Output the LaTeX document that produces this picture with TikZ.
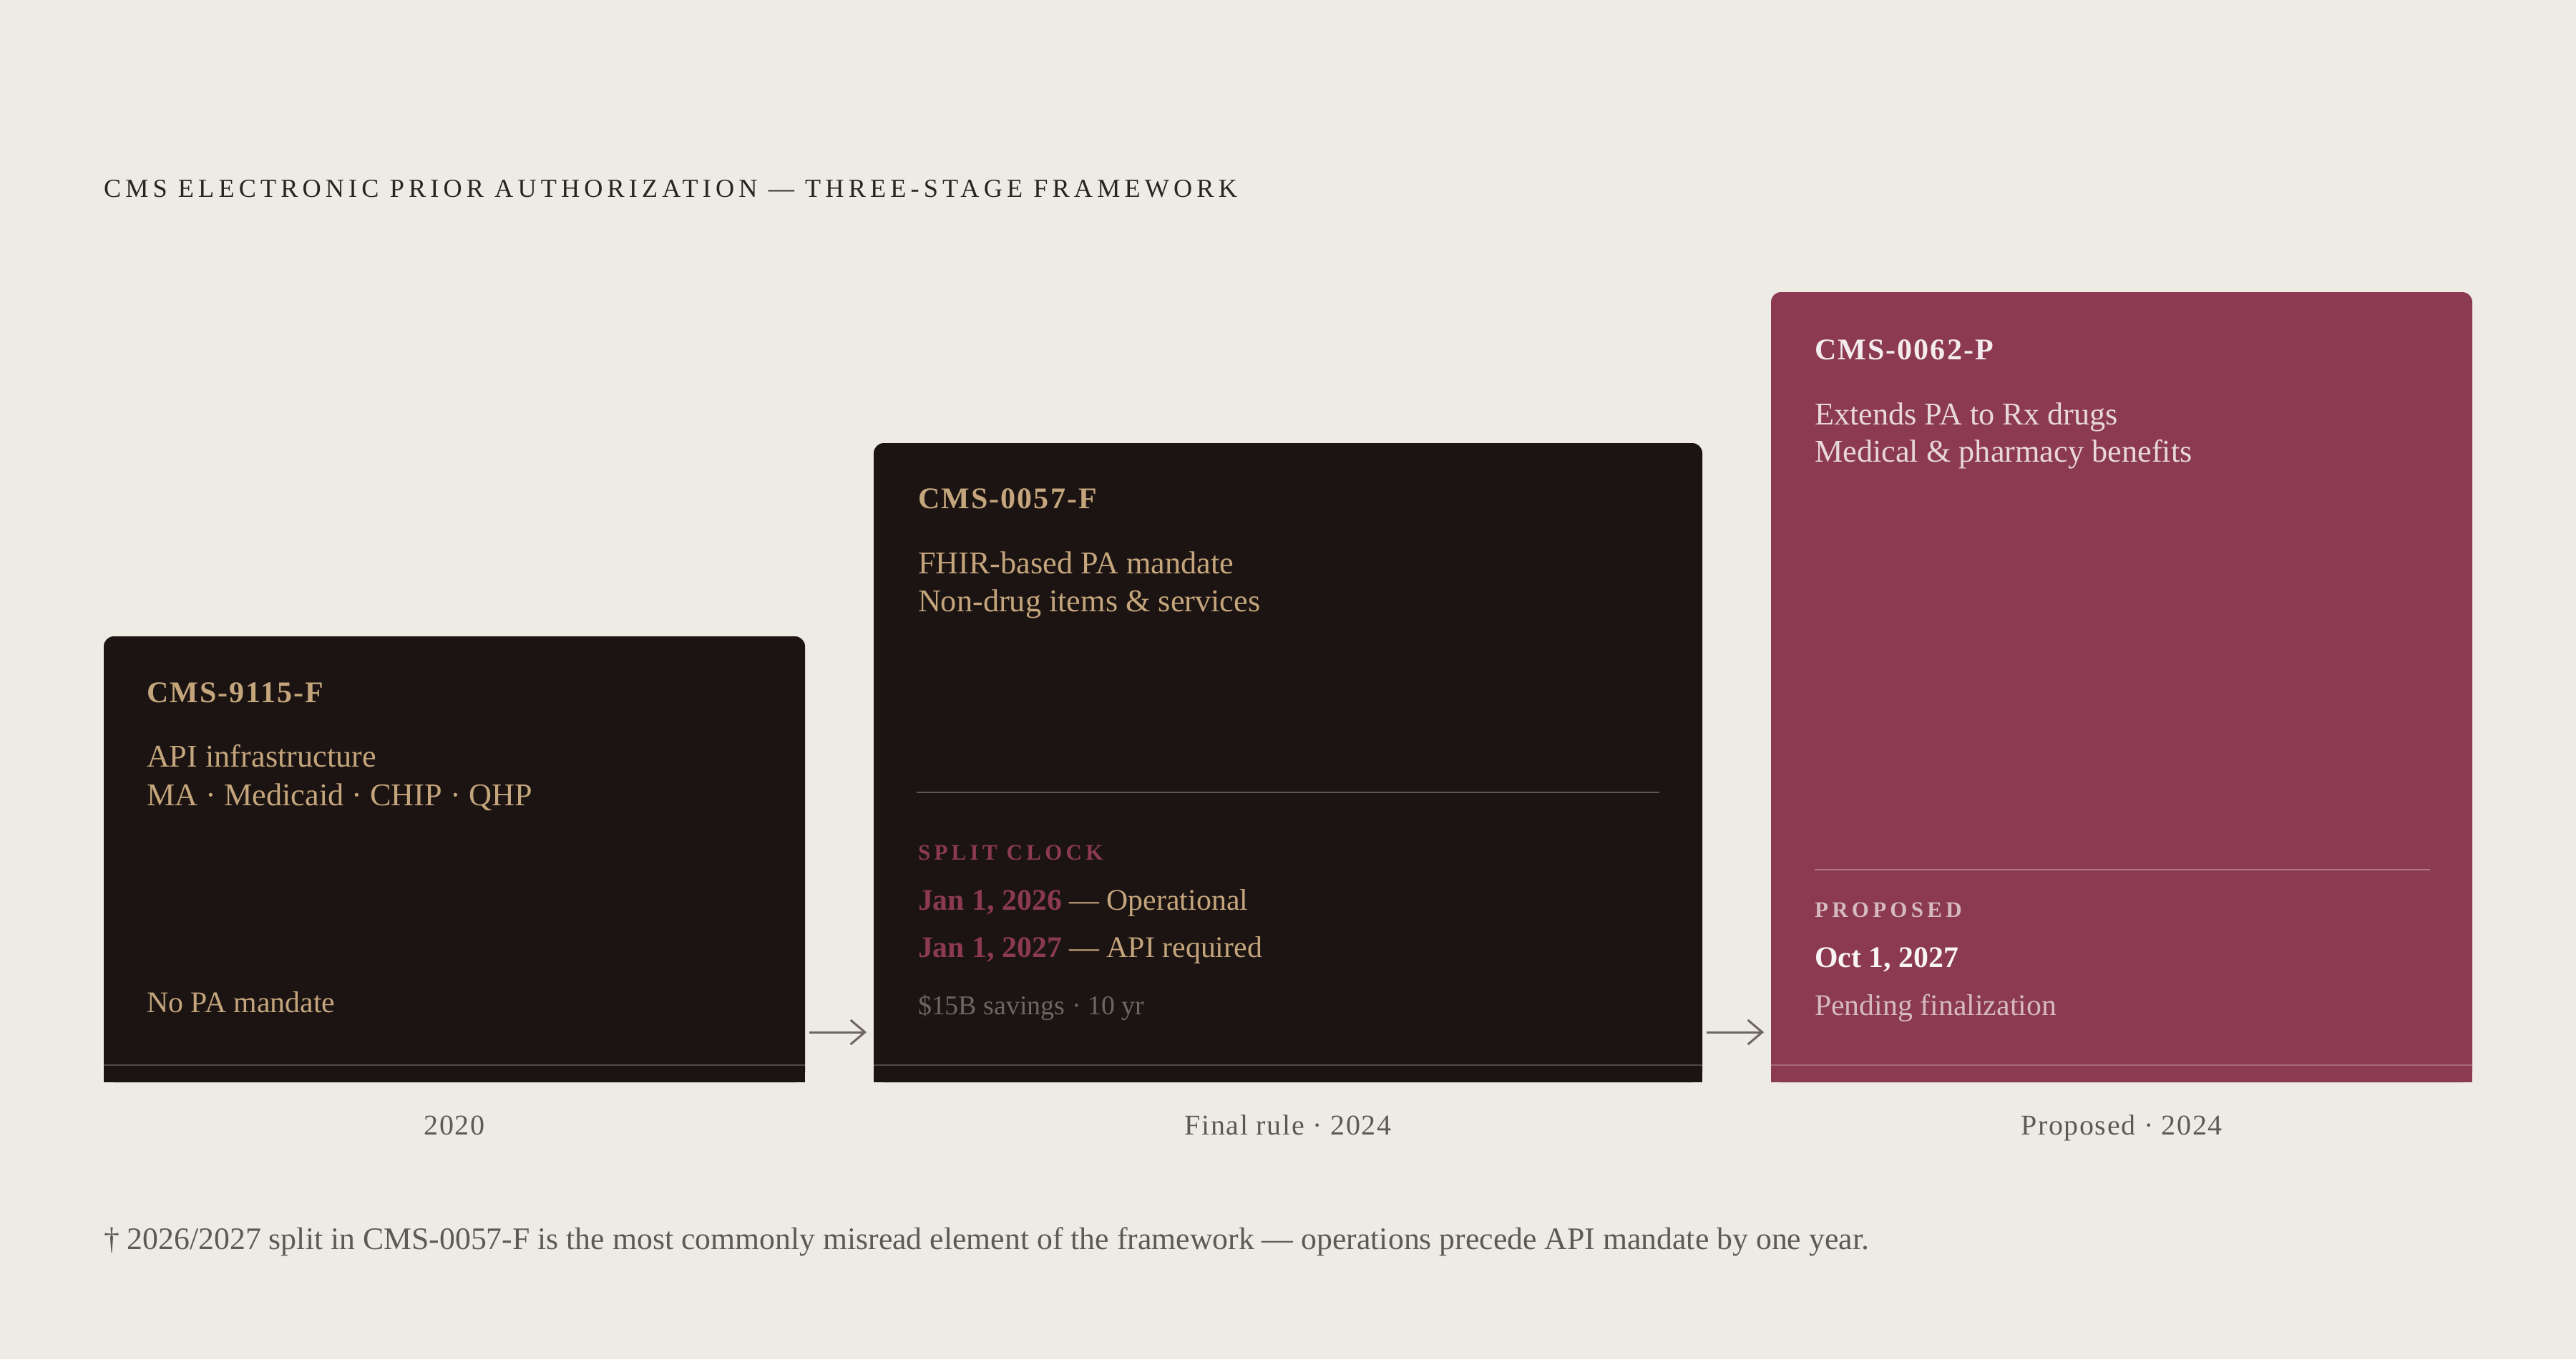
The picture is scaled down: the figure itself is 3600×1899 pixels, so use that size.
\documentclass[tikz,border=0pt]{standalone}
\usepackage{fontspec}
\setmainfont{Liberation Serif}
\usetikzlibrary{arrows.meta,positioning}

\definecolor{paper}{HTML}{EEEBE5}
\definecolor{ink}{HTML}{1C1412}
\definecolor{wine}{HTML}{8B3A51}
\definecolor{tan}{HTML}{C4A57C}
\definecolor{titlegray}{HTML}{2A2420}
\definecolor{midgray}{HTML}{5F5955}
\definecolor{softgray}{HTML}{6E6661}
\definecolor{rulegray}{HTML}{5E5651}
\definecolor{basegray}{HTML}{4F4945}

\newcommand\titlefont{\fontsize{10.3}{12}\selectfont\addfontfeature{LetterSpace=17}}
\newcommand\labelfont{\fontsize{11.95}{14}\selectfont\bfseries\addfontfeature{LetterSpace=5}}
\newcommand\bodyfont{\fontsize{12.6}{14}\selectfont}
\newcommand\capsfont{\fontsize{8.82}{10}\selectfont\bfseries\addfontfeature{LetterSpace=17}}
\newcommand\datefont{\fontsize{11.9}{14}\selectfont}
\newcommand\notefont{\fontsize{10.8}{12}\selectfont}
\newcommand\yearfont{\fontsize{11.38}{13}\selectfont\addfontfeature{LetterSpace=4}}
\newcommand\footfont{\fontsize{12.45}{14}\selectfont}

\begin{document}
\begin{tikzpicture}[x=0.1mm,y=-0.1mm,
    card/.style={inner sep=0pt, outer sep=0pt, anchor=south west, rounded corners=1.4mm},
    txt/.style={anchor=base west, inner sep=0pt, outer sep=0pt},
    yearlbl/.style={anchor=base, inner sep=0pt, text=midgray, font=\yearfont},
    arr/.style={draw=softgray, line width=0.3mm, -{Straight Barb[length=2mm,width=3.4mm,line width=0.3mm]}},
    baseline rule/.style={line width=0.15mm},
  ]
  \useasboundingbox[fill=paper] (0,0) rectangle (3600,1899);

  % title
  \node[txt, text=titlegray, font=\titlefont] (title) at (145,275) {CMS ELECTRONIC PRIOR AUTHORIZATION — THREE-STAGE FRAMEWORK};

  % cards
  \node[card, fill=ink, minimum width=98mm, minimum height=62.3mm] (c1) at (145,1512) {};
  \fill[ink] (c1.south west) rectangle (c1.east);
  \node[card, fill=ink, minimum width=115.8mm, minimum height=89.3mm] (c2) at (1221,1512) {};
  \fill[ink] (c2.south west) rectangle (c2.east);
  \node[card, fill=wine, minimum width=98mm, minimum height=110.4mm] (c3) at (2475,1512) {};
  \fill[wine] (c3.south west) rectangle (c3.east);

  \draw[baseline rule, basegray] ([yshift=2.4mm]c1.south west) -- ([yshift=2.4mm]c1.south east);
  \draw[baseline rule, basegray] ([yshift=2.4mm]c2.south west) -- ([yshift=2.4mm]c2.south east);
  \draw[baseline rule, white!25!wine] ([yshift=2.4mm]c3.south west) -- ([yshift=2.4mm]c3.south east);

  % card 1
  \node[txt, text=tan, font=\labelfont] (c1lbl) at ([shift={(60,92)}]c1.north west) {CMS-9115-F};
  \node[txt, text=tan, font=\bodyfont] (c1a) at ([shift={(60,182)}]c1.north west) {API infrastructure};
  \node[txt, text=tan, font=\bodyfont] (c1b) at ([shift={(60,236)}]c1.north west) {MA · Medicaid · CHIP · QHP};
  \node[txt, text=tan, font=\datefont] (c1c) at ([shift={(60,-98)}]c1.south west) {No PA mandate};

  % card 2
  \node[txt, text=tan, font=\labelfont] (c2lbl) at ([shift={(62,91)}]c2.north west) {CMS-0057-F};
  \node[txt, text=tan, font=\bodyfont] (c2a) at ([shift={(62,182)}]c2.north west) {FHIR-based PA mandate};
  \node[txt, text=tan, font=\bodyfont] (c2b) at ([shift={(62,235)}]c2.north west) {Non-drug items \& services};
  \draw[rulegray, line width=0.25mm] ([shift={(60,-405)}]c2.south west) -- ([shift={(-60,-405)}]c2.south east);
  \node[txt, text=wine, font=\capsfont] (c2cap) at ([shift={(62,-311)}]c2.south west) {SPLIT CLOCK};
  \node[txt, text=tan, font=\datefont] (c2d1) at ([shift={(62,-241)}]c2.south west) {\textcolor{wine}{\bfseries Jan 1, 2026} — Operational};
  \node[txt, text=tan, font=\datefont] (c2d2) at ([shift={(62,-175)}]c2.south west) {\textcolor{wine}{\bfseries Jan 1, 2027} — API required};
  \node[txt, text=softgray, font=\notefont] (c2n) at ([shift={(62,-95)}]c2.south west) {\$15B savings · 10 yr};

  % card 3
  \node[txt, text=white!90!wine, font=\labelfont] (c3lbl) at ([shift={(61,94)}]c3.north west) {CMS-0062-P};
  \node[txt, text=white!80!wine, font=\bodyfont] (c3a) at ([shift={(61,185)}]c3.north west) {Extends PA to Rx drugs};
  \node[txt, text=white!80!wine, font=\bodyfont] (c3b) at ([shift={(61,237)}]c3.north west) {Medical \& pharmacy benefits};
  \draw[white!30!wine, line width=0.25mm] ([shift={(61,-297)}]c3.south west) -- ([shift={(-59,-297)}]c3.south east);
  \node[txt, text=white!65!wine, font=\capsfont] (c3cap) at ([shift={(61,-231)}]c3.south west) {PROPOSED};
  \node[txt, text=white!95!wine, font=\datefont\bfseries] (c3d) at ([shift={(61,-161)}]c3.south west) {Oct 1, 2027};
  \node[txt, text=white!65!wine, font=\datefont] (c3n) at ([shift={(61,-94)}]c3.south west) {Pending finalization};

  % arrows
  \coordinate (ar) at (0,1442);
  \draw[arr, shorten <=0.6mm, shorten >=1mm] (c1.east |- ar) -- (c2.west |- ar);
  \draw[arr, shorten <=0.6mm, shorten >=1mm] (c2.east |- ar) -- (c3.west |- ar);

  % years
  \coordinate (yr) at (0,1585);
  \node[yearlbl] (y1) at (c1.south |- yr) {2020};
  \node[yearlbl] (y2) at (c2.south |- yr) {Final rule · 2024};
  \node[yearlbl] (y3) at (c3.south |- yr) {Proposed · 2024};

  % footnote
  \node[txt, text=midgray, font=\footfont] (foot) at (145,1745) {† 2026/2027 split in CMS-0057-F is the most commonly misread element of the framework — operations precede API mandate by one year.};
\end{tikzpicture}
\end{document}
